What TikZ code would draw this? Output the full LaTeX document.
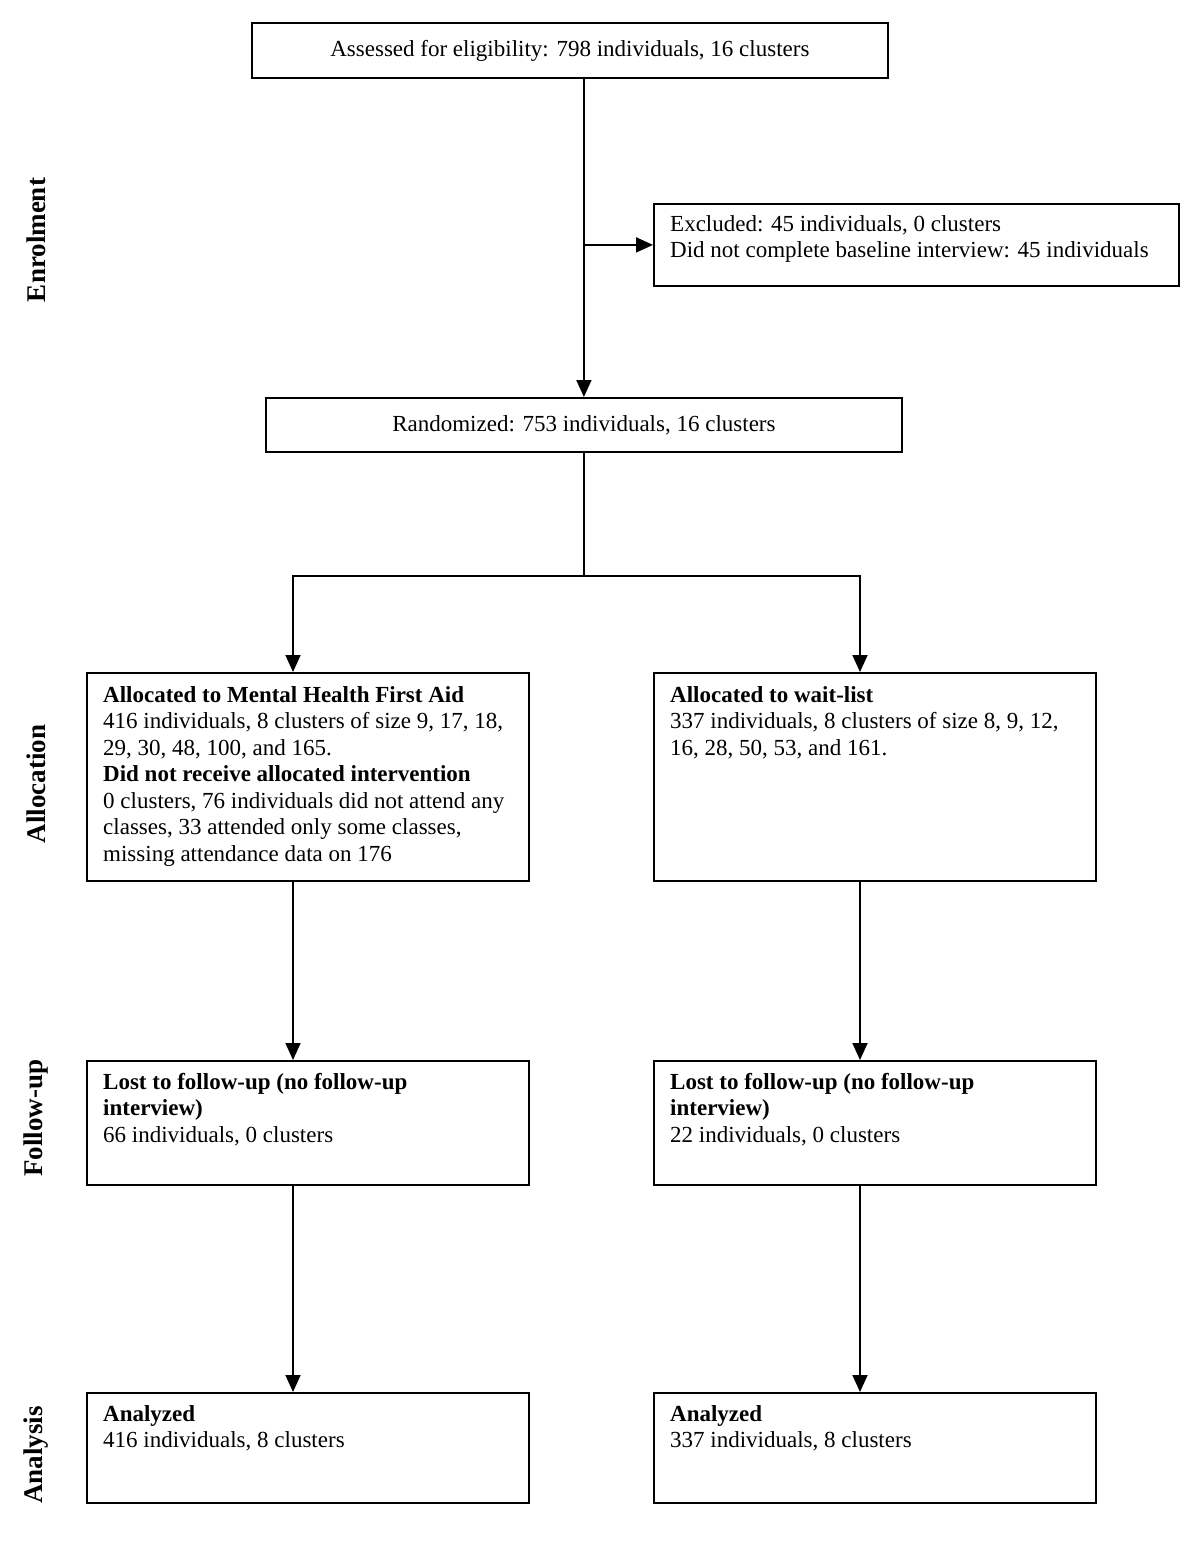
\documentclass[tikz,border=0pt]{standalone}
\usepackage{fontspec}
\setmainfont{Liberation Serif}
\usetikzlibrary{arrows.meta}
\begin{document}
\begin{tikzpicture}[x=1pt,y=-1pt,
  box/.style={draw, line width=1.8pt, inner sep=0pt, anchor=north west},
  boxfont/.style={font=\fontsize{23}{26.5}\selectfont},
  txt/.style={anchor=north west, align=left, inner sep=0pt, font=\fontsize{23}{26.5}\selectfont},
  ln/.style={line width=1.8pt},
  arr/.style={line width=1.8pt, -{Triangle[length=17pt,width=15pt]}},
  lab/.style={rotate=90, inner sep=0pt, font=\fontsize{27}{30}\selectfont\bfseries}]
\useasboundingbox (0,0) rectangle (1194,1545);
\fill[white] (0,0) rectangle (1194,1545);

% boxes
\node[box, boxfont, minimum width=636pt, minimum height=55pt] (assess) at (251,22) {Assessed for eligibility: 798 individuals, 16 clusters};
\node[box, minimum width=525pt, minimum height=82pt] (excl) at (653,203) {};
\node[box, boxfont, minimum width=636pt, minimum height=54pt] (rand) at (265,397) {Randomized: 753 individuals, 16 clusters};
\node[box, minimum width=442pt, minimum height=208pt] (alloc1) at (86,672) {};
\node[box, minimum width=442pt, minimum height=208pt] (alloc2) at (653,672) {};
\node[box, minimum width=442pt, minimum height=124pt] (lost1) at (86,1060) {};
\node[box, minimum width=442pt, minimum height=124pt] (lost2) at (653,1060) {};
\node[box, minimum width=442pt, minimum height=110pt] (an1) at (86,1392) {};
\node[box, minimum width=442pt, minimum height=110pt] (an2) at (653,1392) {};

% texts (top = first baseline - 18.55)
\node[txt] (exclt) at (670,212.5) {\strut Excluded: 45 individuals, 0 clusters\\Did not complete baseline interview: 45 individuals};
\node[txt] (alloc1t) at (103,683.5) {\strut\textbf{Allocated to Mental Health First Aid}\\416 individuals, 8 clusters of size 9, 17, 18,\\29, 30, 48, 100, and 165.\\\textbf{Did not receive allocated intervention}\\0 clusters, 76 individuals did not attend any\\classes, 33 attended only some classes,\\missing attendance data on 176};
\node[txt] (alloc2t) at (670,683.5) {\strut\textbf{Allocated to wait-list}\\337 individuals, 8 clusters of size 8, 9, 12,\\16, 28, 50, 53, and 161.};
\node[txt] (lost1t) at (103,1070.5) {\strut\textbf{Lost to follow-up (no follow-up}\\\textbf{interview)}\\66 individuals, 0 clusters};
\node[txt] (lost2t) at (670,1070.5) {\strut\textbf{Lost to follow-up (no follow-up}\\\textbf{interview)}\\22 individuals, 0 clusters};
\node[txt] (an1t) at (103,1402.5) {\strut\textbf{Analyzed}\\416 individuals, 8 clusters};
\node[txt] (an2t) at (670,1402.5) {\strut\textbf{Analyzed}\\337 individuals, 8 clusters};

% stage labels
\node[lab] (l1) at (36,240) {Enrolment};
\node[lab] (l2) at (36,784) {Allocation};
\node[lab] (l3) at (36,1118) {Follow-up};
\node[lab] (l4) at (36,1455) {Analysis};

% connectors
\coordinate (L) at (293,0);
\coordinate (R) at (860,0);
\coordinate (lvl) at (0,576);
\coordinate (split) at (rand.south |- lvl);
\draw[arr] (rand.north |- assess.south) -- (rand.north);
\draw[arr] (rand.north |- excl.west) -- (excl.west);
\draw[ln] (rand.south) -- (split);
\draw[arr] (split) -| (L |- alloc1.north);
\draw[arr] (split) -| (R |- alloc2.north);
\draw[arr] (L |- alloc1.south) -- (L |- lost1.north);
\draw[arr] (R |- alloc2.south) -- (R |- lost2.north);
\draw[arr] (L |- lost1.south) -- (L |- an1.north);
\draw[arr] (R |- lost2.south) -- (R |- an2.north);
\end{tikzpicture}
\end{document}
